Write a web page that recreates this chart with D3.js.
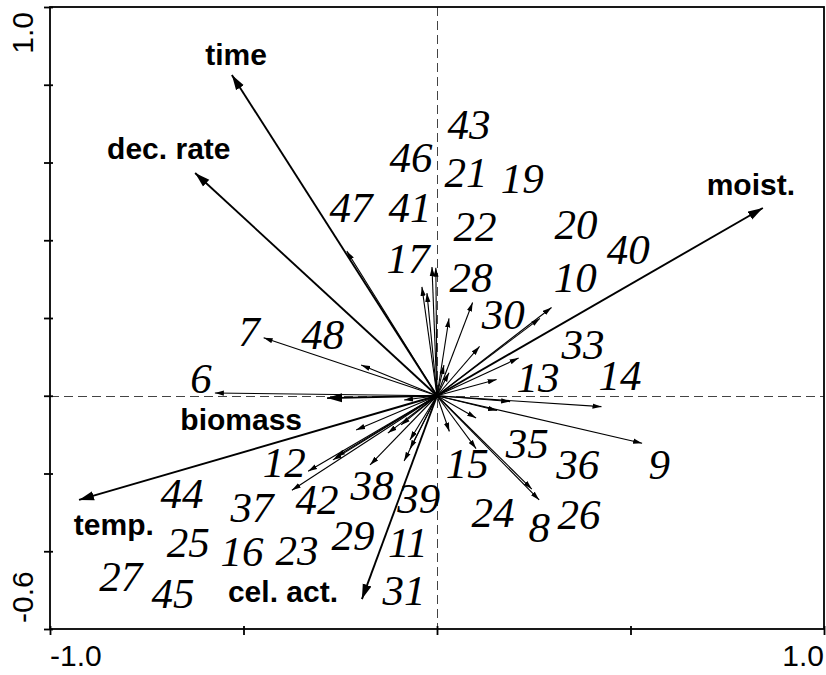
<!DOCTYPE html>
<html>
<head>
<meta charset="utf-8">
<script src="https://cdn.jsdelivr.net/npm/d3@7"></script>
<style>
  body { margin: 0; background: #fff; }
  .tick-label { font-family: "Liberation Sans", Arial, sans-serif; font-size: 30px; fill: #000; }
  .env-label { font-family: "Liberation Sans", Arial, sans-serif; font-size: 30px; font-weight: bold; fill: #000; }
  .sample { font-family: "Liberation Serif", "Times New Roman", serif; font-style: italic; font-size: 43px; fill: #000; }
</style>
</head>
<body>
<script>
// environmental variables (bold arrows)
const envNames = ["time", "dec. rate", "moist.", "biomass", "temp.", "cel. act."];
const envX = [-0.530, -0.625, 0.842, -0.284, -0.925, -0.194];
const envY = [0.825, 0.573, 0.483, -0.006, -0.268, -0.523];
const envLabelX = [-0.519, -0.693, 0.811, -0.506, -0.835, -0.398];
const envLabelY = [0.851, 0.609, 0.516, -0.088, -0.358, -0.531];

// species arrows (thin)
const spX = [-0.013, -0.003, -0.039, -0.026, 0.031, 0.092, 0.110, 0.296, 0.266, 0.211,
  0.154, 0.018, 0.031, -0.448, -0.196, -0.574, -0.085, -0.209, -0.127, -0.093,
  -0.261, -0.269, -0.333, -0.375, -0.173, -0.070, -0.085, 0.189, 0.425, 0.155,
  0.101, 0.032, 0.101, 0.245, 0.264, 0.530, -0.233, -0.070];
const spY = [0.331, 0.329, 0.280, 0.264, 0.199, 0.240, 0.127, 0.227, 0.199, 0.097,
  0.042, 0.079, 0.059, 0.149, 0.079, 0.007, -0.011, -0.088, -0.096, -0.075,
  -0.157, -0.165, -0.194, -0.243, -0.178, -0.137, -0.168, -0.015, -0.028, -0.038,
  -0.057, -0.092, -0.136, -0.240, -0.268, -0.122, 0.372, -0.114];

// samples
const sampleIds = ["43", "46", "21", "19", "47", "41", "22", "20", "40", "17",
  "28", "10", "30", "7", "48", "33", "13", "14", "6", "35",
  "36", "9", "15", "12", "44", "37", "42", "38", "39", "24",
  "8", "26", "25", "16", "23", "29", "11", "27", "45", "31"];
const sampleX = [0.083, -0.067, 0.075, 0.220, -0.222, -0.070, 0.098, 0.359, 0.494, -0.075,
  0.088, 0.357, 0.171, -0.486, -0.295, 0.377, 0.261, 0.473, -0.610, 0.233,
  0.364, 0.574, 0.078, -0.395, -0.659, -0.478, -0.310, -0.168, -0.047, 0.145,
  0.264, 0.367, -0.643, -0.504, -0.362, -0.217, -0.075, -0.817, -0.682, -0.085];
const sampleY = [0.700, 0.614, 0.576, 0.560, 0.485, 0.485, 0.436, 0.442, 0.377, 0.354,
  0.305, 0.305, 0.210, 0.166, 0.159, 0.133, 0.048, 0.053, 0.046, -0.122,
  -0.176, -0.176, -0.173, -0.170, -0.250, -0.286, -0.266, -0.230, -0.263, -0.299,
  -0.338, -0.304, -0.376, -0.399, -0.397, -0.358, -0.376, -0.464, -0.508, -0.500];

const xTicks = [-1, -0.5, 0, 0.5, 1];
const yTicks = [-0.6, -0.4, -0.2, 0, 0.2, 0.4, 0.6, 0.8, 1.0];

const width = 826, height = 675;

const svg = d3.select("body").append("svg")
    .attr("width", width)
    .attr("height", height);

const x = d3.scaleLinear().domain([-1, 1]).range([50, 824]);
const y = d3.scaleLinear().domain([-0.6, 1]).range([629, 7]);

// arrow heads
const defs = svg.append("defs");
defs.append("marker")
    .attr("id", "thin")
    .attr("markerUnits", "userSpaceOnUse")
    .attr("viewBox", "-9 -3 9 6")
    .attr("refX", 0).attr("refY", 0)
    .attr("markerWidth", 9).attr("markerHeight", 6)
    .attr("orient", "auto")
    .append("path")
    .attr("d", "M0,0 L-9,-2.6 L-9,2.6 Z")
    .attr("fill", "#000");
defs.append("marker")
    .attr("id", "bold")
    .attr("markerUnits", "userSpaceOnUse")
    .attr("viewBox", "-15 -5 15 10")
    .attr("refX", 0).attr("refY", 0)
    .attr("markerWidth", 15).attr("markerHeight", 10)
    .attr("orient", "auto")
    .append("path")
    .attr("d", "M0,0 L-15,-4.6 L-15,4.6 Z")
    .attr("fill", "#000");

// zero lines (half pixel offset keeps them crisp)
const x0 = Math.round(x(0)) + 0.5, y0 = Math.round(y(0)) + 0.5;
svg.append("line")
    .attr("x1", x0).attr("x2", x0)
    .attr("y1", y(1)).attr("y2", y(-0.6))
    .attr("stroke", "#444").attr("stroke-width", 1)
    .attr("stroke-dasharray", "9,5");
svg.append("line")
    .attr("x1", x(-1)).attr("x2", x(1))
    .attr("y1", y0).attr("y2", y0)
    .attr("stroke", "#444").attr("stroke-width", 1)
    .attr("stroke-dasharray", "9,5");

// frame and ticks
svg.append("rect")
    .attr("x", x(-1)).attr("y", y(1))
    .attr("width", x(1) - x(-1)).attr("height", y(-0.6) - y(1))
    .attr("fill", "none").attr("stroke", "#000").attr("stroke-width", 1.8);

svg.append("g")
    .attr("transform", "translate(0," + y(-0.6) + ")")
    .call(d3.axisBottom(x).tickValues(xTicks).tickSize(6).tickFormat(""))
    .call(g => g.select(".domain").remove())
    .call(g => g.selectAll("line").attr("y1", -3).attr("stroke-width", 1.8));

svg.append("g")
    .attr("transform", "translate(" + x(-1) + ",0)")
    .call(d3.axisLeft(y).tickValues(yTicks).tickSize(6).tickFormat(""))
    .call(g => g.select(".domain").remove())
    .call(g => g.selectAll("line").attr("x1", 3).attr("stroke-width", 1.8));

// tick labels, only at the ends
svg.append("text").attr("class", "tick-label")
    .attr("x", x(-1)).attr("y", 666)
    .attr("text-anchor", "start").text("-1.0");
svg.append("text").attr("class", "tick-label")
    .attr("x", x(1)).attr("y", 666)
    .attr("text-anchor", "end").text("1.0");
svg.append("text").attr("class", "tick-label")
    .attr("transform", "translate(33," + (y(1) + 5) + ") rotate(-90)")
    .attr("text-anchor", "end").text("1.0");
svg.append("text").attr("class", "tick-label")
    .attr("transform", "translate(33," + (y(-0.6) - 6) + ") rotate(-90)")
    .attr("text-anchor", "start").text("-0.6");

// species arrows
svg.append("g").selectAll("line")
    .data(d3.range(spX.length))
    .join("line")
    .attr("x1", x(0)).attr("y1", y(0))
    .attr("x2", i => x(spX[i])).attr("y2", i => y(spY[i]))
    .attr("stroke", "#000").attr("stroke-width", 1.1)
    .attr("marker-end", "url(#thin)");

// environmental arrows
svg.append("g").selectAll("line")
    .data(d3.range(envNames.length))
    .join("line")
    .attr("x1", x(0)).attr("y1", y(0))
    .attr("x2", i => x(envX[i])).attr("y2", i => y(envY[i]))
    .attr("stroke", "#000").attr("stroke-width", 1.9)
    .attr("marker-end", "url(#bold)");

svg.append("g").selectAll("text")
    .data(d3.range(envNames.length))
    .join("text")
    .attr("class", "env-label")
    .attr("x", i => x(envLabelX[i]))
    .attr("y", i => y(envLabelY[i]))
    .attr("text-anchor", "middle")
    .text(i => envNames[i]);

// sample numbers
svg.append("g").selectAll("text")
    .data(d3.range(sampleIds.length))
    .join("text")
    .attr("class", "sample")
    .attr("x", i => x(sampleX[i]))
    .attr("y", i => y(sampleY[i]) + 15)
    .attr("text-anchor", "middle")
    .text(i => sampleIds[i]);
</script>
</body>
</html>
